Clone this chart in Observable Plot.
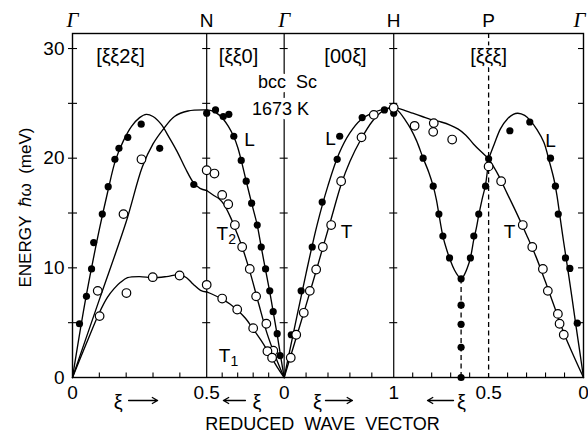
<!DOCTYPE html>
<html><head><meta charset="utf-8">
<script src="https://cdn.jsdelivr.net/npm/d3@7"></script>
<script src="https://cdn.jsdelivr.net/npm/@observablehq/plot@0.6"></script>
<style>
html,body{margin:0;padding:0;background:#fff;}
#chart svg{display:block;}
#chart svg text{-webkit-font-smoothing:antialiased;}
</style>
</head><body><div id="chart"></div>
<script>
// ---------- Brillouin-zone path (bcc): symmetry points and directions ----------
const pointLabels = ["Γ", "N", "Γ", "H", "P", "Γ"];
const pointXiLabels = ["0", "0.5", "0", "1", "0.5", "0"];
const dirLabels = ["[ξξ2ξ]", "[ξξ0]", "[00ξ]", "[ξξξ]"];
const segNorm = [Math.sqrt(6), Math.sqrt(2), 1, Math.sqrt(3), Math.sqrt(3)];
const segXiStart = [0, 0.5, 0, 1, 0.5];
const segXiEnd = [0.5, 0, 1, 0.5, 0];

// ---------- measured phonons (ξ, meV): filled = L, open = T ----------
const filledGN = [[0.026,4.9],[0.052,7.4],[0.071,9.9],[0.079,12.3],[0.111,14.9],[0.133,17.4],[0.158,19.9],[0.173,20.9],[0.206,21.9],[0.256,23.1],[0.325,20.9],[0.452,17.6],[0.5,24.1]];
const openGN = [[0.094,7.9],[0.101,5.6],[0.19,14.9],[0.257,19.9],[0.201,7.7],[0.299,9.15],[0.399,9.3],[0.5,8.45],[0.5,18.9]];
const filledNG = [[0.443,24.4],[0.393,23.8],[0.357,24.0],[0.325,22.0],[0.277,19.8],[0.245,17.9],[0.21,15.9],[0.174,13.9],[0.148,11.9],[0.12,9.9],[0.093,7.9],[0.071,6.0],[0.045,4.0],[0.026,2.0]];
const openNG = [[0.45,18.6],[0.4,16.65],[0.361,15.8],[0.318,13.9],[0.271,11.9],[0.222,9.9],[0.181,7.4],[0.115,4.9],[0.07,2.45],[0.4,7.2],[0.303,6.2],[0.2,4.5],[0.108,2.4],[0.078,1.8]];
const filledGH = [[0.065,3.9],[0.155,7.9],[0.256,11.9],[0.347,16.0],[0.484,19.9],[0.507,22.0],[0.712,23.7],[0.915,24.4],[1.0,24.1]];
const openGH = [[0.06,1.8],[0.11,3.9],[0.179,5.9],[0.234,7.9],[0.292,9.85],[0.353,11.9],[0.429,13.9],[0.52,17.9],[0.706,21.9],[0.818,23.95],[1.0,24.6]];
const filledHP = [[0.845,20.0],[0.792,17.45],[0.762,14.9],[0.741,12.9],[0.706,10.9],[0.645,9.0],[0.645,6.6],[0.645,4.85],[0.645,2.75],[0.645,0],[0.596,10.9],[0.578,12.9],[0.552,14.9],[0.516,17.45],[0.5,19.95]];
const openHP = [[0.89,22.95],[0.789,23.2],[0.792,22.4],[0.692,21.7],[0.5,19.25]];
const filledPG = [[0.388,22.5],[0.283,23.3],[0.174,20.0],[0.148,17.45],[0.133,14.9],[0.095,10.9],[0.072,9.95],[0.033,4.95]];
const openPG = [[0.434,17.9],[0.32,13.9],[0.27,11.9],[0.214,9.9],[0.188,7.9],[0.135,5.8],[0.126,4.9],[0.104,3.9]];

// ---------- drawn dispersion curves (ξ, meV) ----------
const curveGN_L = [[0,0],[0.05,7.3],[0.1,13.5],[0.13,16.8],[0.16,19.8],[0.19,21.6],[0.22,22.9],[0.25,23.7],[0.275,24.0],[0.3,23.8],[0.33,23.1],[0.36,21.9],[0.39,20.6],[0.42,19.1],[0.45,17.8],[0.475,17.25],[0.5,17.05]];
const curveGN_T = [[0,0],[0.1,7.1],[0.2,14.2],[0.26,19.2],[0.3,21.3],[0.34,22.7],[0.38,23.8],[0.43,24.3],[0.5,24.4]];
const curveGN_T1 = [[0,0],[0.05,3.0],[0.1,5.9],[0.13,7.3],[0.155,8.1],[0.18,8.7],[0.205,9.1],[0.25,9.2],[0.3,9.1],[0.35,9.2],[0.4,9.38],[0.425,9.1],[0.45,8.5],[0.477,7.95],[0.5,7.8]];
const curveNG_L = [[0.5,24.4],[0.46,24.3],[0.42,23.95],[0.39,23.5],[0.36,22.9],[0.325,21.95],[0.3,21.0],[0.277,19.8],[0.245,17.9],[0.21,15.9],[0.174,13.9],[0.148,11.9],[0.12,9.8],[0.093,7.8],[0.071,6.0],[0.045,3.9],[0.02,1.7],[0,0]];
const curveNG_T2 = [[0.5,17.05],[0.454,16.6],[0.42,16.3],[0.39,15.8],[0.346,14.6],[0.303,13.1],[0.264,11.6],[0.217,9.45],[0.164,6.7],[0.11,4.0],[0.056,1.9],[0,0]];
const curveNG_T1 = [[0.5,7.8],[0.45,7.5],[0.4,7.15],[0.35,6.7],[0.303,6.15],[0.25,5.4],[0.206,4.55],[0.15,3.4],[0.11,2.5],[0.045,0.95],[0,0]];
const curveGH_L = [[0,0],[0.1,4.8],[0.2,9.5],[0.3,13.9],[0.4,17.5],[0.5,20.4],[0.6,22.3],[0.7,23.5],[0.8,24.1],[0.9,24.45],[1,24.65]];
const curveGH_T = [[0,0],[0.1,3.3],[0.2,6.6],[0.3,10.0],[0.36,12.1],[0.43,14.5],[0.52,17.6],[0.6,19.7],[0.7,21.7],[0.8,23.3],[0.9,24.3],[1,24.65]];
const curveHP_L = [[1,24.65],[0.97,24.2],[0.94,23.5],[0.911,22.7],[0.88,21.6],[0.845,20.0],[0.815,18.7],[0.792,17.45],[0.775,16.2],[0.762,14.9],[0.741,12.9],[0.72,11.6],[0.7,10.6],[0.68,9.8],[0.66,9.25],[0.645,9.0],[0.63,9.3],[0.612,10.0],[0.596,10.9],[0.578,12.6],[0.565,13.6],[0.552,14.8],[0.535,16.2],[0.516,17.6],[0.5,19.95]];
const curveHP_T = [[1,24.65],[0.95,24.4],[0.9,24.1],[0.85,23.8],[0.8,23.5],[0.75,23.3],[0.7,23.0],[0.66,22.65],[0.62,22.1],[0.58,21.3],[0.54,20.6],[0.5,19.95]];
const curvePG_L = [[0.5,19.95],[0.47,21.3],[0.437,22.7],[0.4,23.6],[0.37,24.0],[0.346,24.1],[0.31,23.9],[0.279,23.4],[0.245,22.6],[0.209,21.45],[0.18,19.7],[0.156,18.1],[0.14,16.6],[0.125,14.8],[0.105,12.4],[0.083,9.9],[0.06,7.2],[0.042,5.0],[0.02,2.4],[0,0]];
const curvePG_T = [[0.5,19.95],[0.45,18.5],[0.4,16.7],[0.35,14.9],[0.3,13.0],[0.25,11.0],[0.2,8.7],[0.15,6.3],[0.1,3.9],[0.05,1.9],[0,0]];

// soft-mode dip at the 2/3[111] point
const dipXi = 0.645;

// axis ticks
const energyTicks = [0, 10, 20, 30];
const energyMinorTicks = [5, 10, 15, 20, 25, 30];
const xiTicks = [[0.1,0.2,0.3,0.4],[0.4,0.3,0.2,0.1],[0.2,0.4,0.6,0.8],[0.9,0.8,0.7,0.6],[0.4,0.3,0.2,0.1]];

// text annotations (segment, ξ, meV)
const dirLabelPos = [[0,0.179,29.3],[1,0.295,29.3],[2,0.56,29.3],[3,0.5,29.3]];
const sampleText = ["bcc  Sc", "1673 K"];
const sampleTextPos = [[2,0.03,26.9],[1,0.024,24.5]];
const branchLabels = [
  {seg:1, xi:0.224, E:21.7, t:"L", sub:""},
  {seg:1, xi:0.40, E:13.1, t:"T", sub:"2"},
  {seg:1, xi:0.385, E:2.0, t:"T", sub:"1"},
  {seg:2, xi:0.423, E:21.8, t:"L", sub:""},
  {seg:2, xi:0.57, E:13.3, t:"T", sub:""},
  {seg:4, xi:0.174, E:21.6, t:"L", sub:""},
  {seg:4, xi:0.39, E:13.3, t:"T", sub:""}
];
// direction-of-ξ arrows below the axis: segment, ξ of the "ξ" letter, arrow tail ξ, arrow head ξ
const xiArrows = [[0,0.170,0.209,0.317],[1,0.175,0.250,0.392],[2,0.304,0.377,0.623],[3,0.643,0.685,0.822]];
const yLabel = "ENERGY  ℏω  (meV)";
const yLabelE = 15.5;
const xLabel = "REDUCED  WAVE  VECTOR";
const xLabelXi = [2, 0.35];

// ---------- build ----------
const segStart = [0];
for (let i = 0; i < segNorm.length; i++) segStart.push(segStart[i] + Math.abs(segXiEnd[i] - segXiStart[i]) * segNorm[i]);
const toS = (seg, xi) => segStart[seg] + Math.abs(xi - segXiStart[seg]) * segNorm[seg];
const sMax = segStart[segStart.length - 1];
const eMax = 31.37;

const W = 588, H = 433, mL = 72, mR = 5, mT = 33, mB = 56;
const pxX = sMax / (W - mL - mR), pxY = eMax / (H - mT - mB);

const ptSets = [[filledGN,openGN],[filledNG,openNG],[filledGH,openGH],[filledHP,openHP],[filledPG,openPG]];
const filled = [], open = [];
ptSets.forEach(([f,o], seg) => {
  f.forEach(([xi,E]) => filled.push({s: toS(seg, xi), E}));
  o.forEach(([xi,E]) => open.push({s: toS(seg, xi), E}));
});
const curveSets = [[0,curveGN_L],[0,curveGN_T],[0,curveGN_T1],[1,curveNG_L],[1,curveNG_T2],[1,curveNG_T1],[2,curveGH_L],[2,curveGH_T],[3,curveHP_L],[3,curveHP_T],[4,curvePG_L],[4,curvePG_T]];
const curves = [];
curveSets.forEach(([seg, c], id) => {
  c.map(([xi,E]) => ({id, s: toS(seg, xi), E})).sort((a,b) => a.s - b.s).forEach(d => curves.push(d));
});

const symS = segStart.slice();
const solidLines = [symS[1], symS[2], symS[3]];
const crossTicks = [];
solidLines.forEach(s => energyMinorTicks.forEach(E => crossTicks.push({s, E})));
const leftTicks = energyMinorTicks.map(E => ({s: 0, E}));
const rightTicks = energyMinorTicks.map(E => ({s: sMax, E}));
const bottomTicks = [];
xiTicks.forEach((arr, seg) => arr.forEach(xi => bottomTicks.push({s: toS(seg, xi)})));
const dipE = d3.min(curveHP_L, d => d[1]);
const arrowData = xiArrows.map(([seg, xl, a, b]) => ({sl: toS(seg, xl), s1: toS(seg, a), s2: toS(seg, b)}));
const topLabels = symS.map((s, i) => ({s, t: pointLabels[i], last: i === symS.length - 1}));

const font = "Liberation Sans, Arial, Helvetica, sans-serif";
const gammaFont = "Liberation Serif, Times New Roman, serif";

const plot = Plot.plot({
  width: W, height: H,
  marginLeft: mL, marginRight: mR, marginTop: mT, marginBottom: mB,
  x: {domain: [0, sMax], axis: null},
  y: {domain: [0, eMax], axis: null},
  style: {fontFamily: font, fontSize: "17px", background: "white", color: "black"},
  marks: [
    Plot.ruleX(solidLines, {stroke: "black", strokeWidth: 1.2}),
    Plot.ruleX([symS[4]], {stroke: "black", strokeWidth: 1.3, strokeDasharray: "5,3.5"}),
    Plot.ruleX([{s: toS(3, dipXi), E: dipE}], {x: "s", y1: 0, y2: "E", stroke: "black", strokeWidth: 1.3, strokeDasharray: "5,3.5"}),
    Plot.ruleY(crossTicks, {y: "E", x1: d => d.s - 4*pxX, x2: d => d.s + 4*pxX, stroke: "black", strokeWidth: 1.1}),
    Plot.ruleY(leftTicks, {y: "E", x1: d => d.s - 4*pxX, x2: d => d.s + 5*pxX, stroke: "black", strokeWidth: 1.1}),
    Plot.ruleY(rightTicks, {y: "E", x1: d => d.s - 5*pxX, x2: d => d.s, stroke: "black", strokeWidth: 1.1}),
    Plot.ruleX(bottomTicks, {x: "s", y1: 0, y2: 4.5*pxY, stroke: "black", strokeWidth: 1.1}),
    Plot.frame({stroke: "black", strokeWidth: 1.4}),
    Plot.line(curves, {x: "s", y: "E", z: "id", curve: "catmull-rom", stroke: "black", strokeWidth: 1.35}),
    // direction & sample labels (white halo interrupts lines like the original)
    Plot.text(dirLabelPos.map(([seg,xi,E], i) => ({s: toS(seg,xi), E, t: dirLabels[i]})), {x: "s", y: "E", text: "t", fontSize: 20, fill: "black", stroke: "white", strokeWidth: 5, ariaLabel: "dirlabel"}),
    Plot.text(sampleTextPos.map(([seg,xi,E], i) => ({s: toS(seg,xi), E, t: sampleText[i]})), {x: "s", y: "E", text: "t", fontSize: 18, fill: "black", stroke: "white", strokeWidth: 9}),
    Plot.text(branchLabels.map(d => ({...d, s: toS(d.seg, d.xi)})), {x: "s", y: "E", text: "t", fontSize: 19, fill: "#000"}),
    Plot.text(branchLabels.filter(d => d.sub).map(d => ({...d, s: toS(d.seg, d.xi)})), {x: "s", y: "E", text: "sub", fontSize: 14, dx: 10, dy: 6, fill: "#000"}),
    // data points
    Plot.dot(filled, {x: "s", y: "E", r: 3.6, fill: "black", stroke: "none"}),
    Plot.dot(open, {x: "s", y: "E", r: 4.3, fill: "white", stroke: "black", strokeWidth: 1.2}),
    // axis labels
    Plot.text(energyTicks, {x: 0, y: d => d, text: d => String(d), textAnchor: "end", dx: -8, fontSize: 19}),
    Plot.text(symS.map((s, i) => ({s, t: pointXiLabels[i]})), {x: "s", y: 0, text: "t", dy: 15, fontSize: 19}),
    Plot.text(topLabels.filter(d => d.t === "Γ" && !d.last), {x: "s", y: eMax, text: "t", dy: -13, fontSize: 21, fontStyle: "italic", fontFamily: gammaFont}),
    Plot.text(topLabels.filter(d => d.last), {x: "s", y: eMax, text: "t", dy: -13, dx: -4, fontSize: 21, fontStyle: "italic", fontFamily: gammaFont}),
    Plot.text(topLabels.filter(d => d.t !== "Γ"), {x: "s", y: eMax, text: "t", dy: -13, fontSize: 19}),
    Plot.text(arrowData, {x: "sl", y: 0, text: () => "ξ", dy: 25, fontSize: 20}),
    Plot.arrow(arrowData, {x1: "s1", x2: "s2", y1: 0, y2: 0, dy: 23, stroke: "black", strokeWidth: 1.3, headLength: 7}),
    Plot.text([xLabel], {x: toS(...xLabelXi), y: 0, text: d => d, textAnchor: "middle", lineAnchor: "middle", dy: 47, fontSize: 18, ariaLabel: "xlabel"}),
    Plot.text([yLabel], {x: 0, y: yLabelE, text: d => d, rotate: -90, textAnchor: "middle", lineAnchor: "middle", dx: -47, fontSize: 17})
  ]
});
d3.select(plot).selectAll('g[aria-label="dirlabel"] text').attr("letter-spacing", "2px");
d3.select(plot).selectAll('g[aria-label="xlabel"] text').attr("letter-spacing", "1.2px");
document.getElementById("chart").appendChild(plot);
</script>
</body></html>
